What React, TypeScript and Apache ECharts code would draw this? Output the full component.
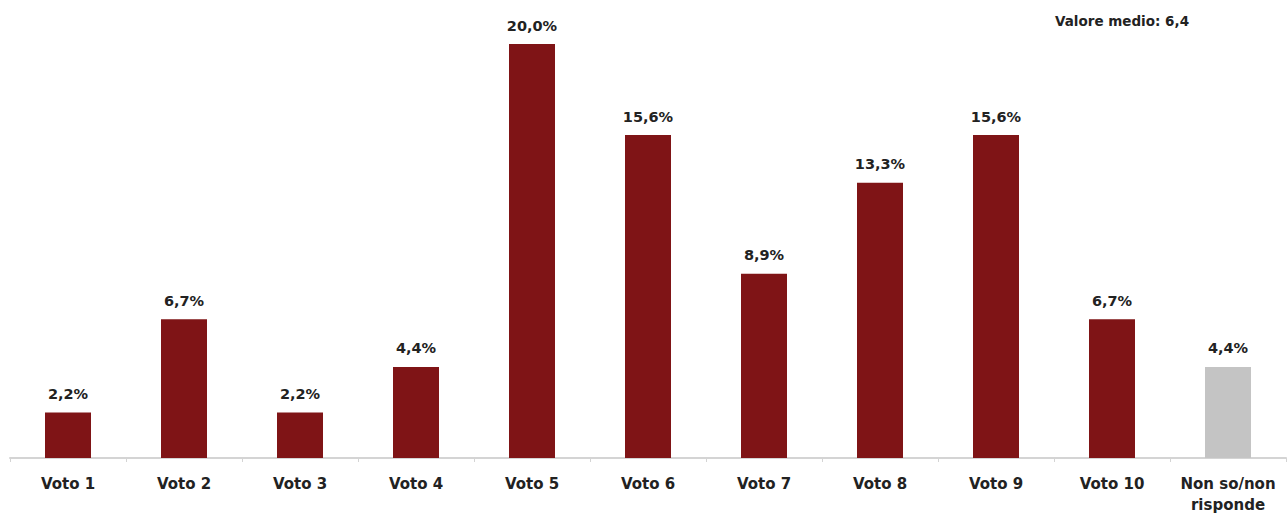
import React, { useEffect, useRef } from "react";
import * as echarts from "echarts";

const categories = ["Voto 1", "Voto 2", "Voto 3", "Voto 4", "Voto 5", "Voto 6", "Voto 7", "Voto 8", "Voto 9", "Voto 10", "Non so/non\nrisponde"];
const values = [2.2, 6.7, 2.2, 4.4, 20.0, 15.6, 8.9, 13.3, 15.6, 6.7, 4.4];
const barColors = ["#7f1416", "#7f1416", "#7f1416", "#7f1416", "#7f1416", "#7f1416", "#7f1416", "#7f1416", "#7f1416", "#7f1416", "#c4c4c4"];
const noteText = "Valore medio: 6,4";

const FONT = "DejaVu Sans, Liberation Sans, Arial, sans-serif";

export default function App() {
  const ref = useRef<HTMLDivElement>(null);
  useEffect(() => {
    document.body.style.margin = "0";
    const chart = echarts.init(ref.current!, null, { renderer: "svg" });
    chart.setOption({
      animation: false,
      backgroundColor: "#ffffff",
      textStyle: { fontFamily: FONT },
      grid: { left: 10, right: 1, top: 44, bottom: 58, containLabel: false },
      xAxis: {
        type: "category",
        data: categories,
        axisLine: { lineStyle: { color: "#d4d4d4", width: 2 } },
        axisTick: { show: true, length: 4, lineStyle: { color: "#d4d4d4" } },
        axisLabel: {
          color: "#222",
          fontWeight: "bold",
          fontSize: 15,
          fontFamily: FONT,
          margin: 15,
          lineHeight: 21,
          interval: 0,
        },
      },
      yAxis: { type: "value", min: 0, max: 20, show: false, splitLine: { show: false } },
      graphic: [
        {
          type: "text",
          left: 1055,
          top: 14,
          style: { text: noteText, fill: "#222", font: "bold 13.5px " + FONT },
        },
      ],
      series: [
        {
          type: "bar",
          barWidth: 46,
          data: values.map((v, i) => ({ value: v, itemStyle: { color: barColors[i] } })),
          label: {
            show: true,
            position: "top",
            distance: 11,
            color: "#222",
            fontWeight: "bold",
            fontSize: 14.5,
            fontFamily: FONT,
            formatter: (p: any) => p.value.toFixed(1).replace(".", ",") + "%",
          },
        },
      ],
    });
    return () => chart.dispose();
  }, []);
  return <div ref={ref} style={{ width: 1287, height: 516 }} />;
}
